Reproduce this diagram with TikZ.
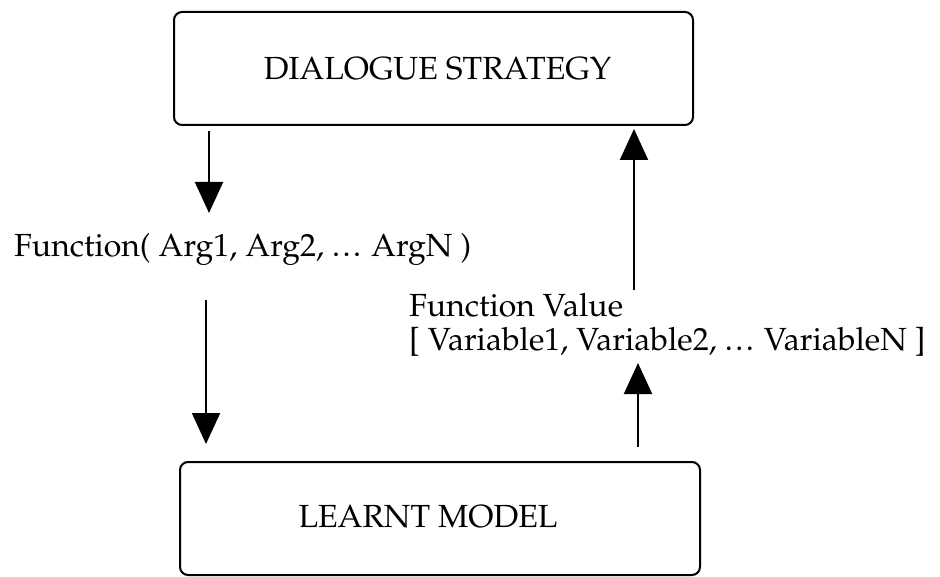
\documentclass[tikz,border=0pt]{standalone}
\usepackage[T1]{fontenc}
\renewcommand{\rmdefault}{ppl}
\usetikzlibrary{arrows.meta}
\newcommand{\tightdots}{.\kern0.08em.\kern0.08em.}
\begin{document}
\begin{tikzpicture}[x=1pt,y=-1pt,
  box/.style={draw, line width=2pt, rounded corners=8pt, inner sep=0pt},
  flow/.style={line width=2pt, -{Triangle[width=28pt,length=31pt]}},
  lbl/.style={inner sep=0pt, font=\fontsize{32}{34}\selectfont}]
\useasboundingbox (0,0) rectangle (940,577);

% the two components
\node[box, minimum width=519pt, minimum height=113pt] (strategy) at (433.5,68.5) {};
\node[lbl, anchor=base] (strategytext) at (437.5,80) {DIALOGUE STRATEGY};
\node[box, minimum width=520pt, minimum height=113pt] (model) at (440,518.5) {};
\node[lbl, anchor=base] (modeltext) at (428,527) {LEARNT MODEL};

% messages exchanged between them
\node[lbl, anchor=base west] (call) at (14,257) {Function( Arg1, Arg2, \tightdots{} ArgN )};
\node[lbl, anchor=base west, align=left] (value) at (409,351)
  {Function Value\\{[} Variable1, Variable2, \tightdots{} VariableN ]};

% arrow ends next to the labels
\coordinate (callin) at (209,213);
\coordinate (callout) at (206,300);
\coordinate (valuein) at (638,363);
\coordinate (valueout) at (634,290);

\draw[flow, shorten <=5pt] (strategy.south -| callin) -- (callin);
\draw[flow, shorten >=17pt] (callout) -- (callout |- model.north);
\draw[flow, shorten <=14pt] (model.north -| valuein) -- (valuein);
\draw[flow, shorten >=3pt] (valueout) -- (valueout |- strategy.south);
\end{tikzpicture}
\end{document}
